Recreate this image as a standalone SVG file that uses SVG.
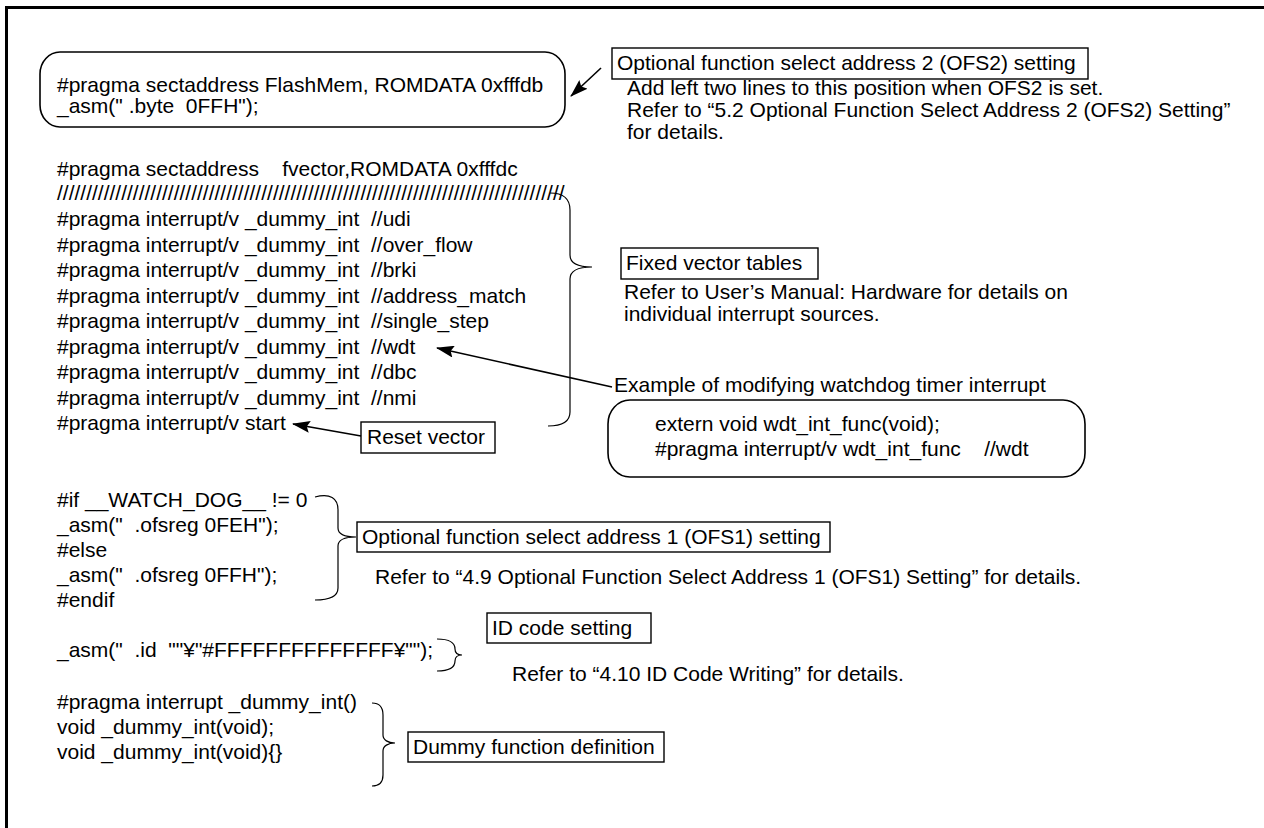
<svg xmlns="http://www.w3.org/2000/svg" width="1264" height="828" viewBox="0 0 1264 828" xml:space="preserve">
<style>
text { font-family: "Liberation Sans", Arial, sans-serif; font-size: 21px; fill: #000; white-space: pre; }
.rbox { fill: none; stroke: #000; stroke-width: 1.6; }
.lbox { fill: none; stroke: #000; stroke-width: 1.4; }
.brace { fill: none; stroke: #000; stroke-width: 1.2; }
.arrow { fill: none; stroke: #000; stroke-width: 1.6; marker-end: url(#ah); }
.frame { fill: none; stroke: #000; stroke-width: 3; }
</style>
<defs>
<marker id="ah" viewBox="0 0 18 12" refX="17" refY="6" markerWidth="18" markerHeight="12" markerUnits="userSpaceOnUse" orient="auto">
<path d="M0,0 L18,6 L0,12 L3,6 Z" fill="#000"/>
</marker>
</defs>
<rect width="1264" height="828" fill="#fff"/>
<path class="frame" d="M6.5,828 V7.5 H1264"/>

<g id="ofs2-code">
<rect class="rbox" x="40" y="52" width="525" height="75" rx="20" ry="22"/>
<text x="57" y="92">#pragma sectaddress FlashMem, ROMDATA 0xfffdb</text>
<text x="57" y="113">_asm(" .byte  0FFH");</text>
</g>

<g id="ofs2-note">
<rect class="lbox" x="612" y="48" width="476" height="31"/>
<text x="617" y="70">Optional function select address 2 (OFS2) setting</text>
<text x="627" y="95">Add left two lines to this position when OFS2 is set.</text>
<text x="627" y="117">Refer to “5.2 Optional Function Select Address 2 (OFS2) Setting”</text>
<text x="627" y="139">for details.</text>
</g>

<g id="vector-code">
<text x="57" y="176">#pragma sectaddress    fvector,ROMDATA 0xfffdc</text>
<text x="57" y="200">///////////////////////////////////////////////////////////////////////////////////////</text>
<text x="57" y="226">#pragma interrupt/v _dummy_int  //udi</text>
<text x="57" y="251.5">#pragma interrupt/v _dummy_int  //over_flow</text>
<text x="57" y="277">#pragma interrupt/v _dummy_int  //brki</text>
<text x="57" y="302.5">#pragma interrupt/v _dummy_int  //address_match</text>
<text x="57" y="328">#pragma interrupt/v _dummy_int  //single_step</text>
<text x="57" y="353.5">#pragma interrupt/v _dummy_int  //wdt</text>
<text x="57" y="379">#pragma interrupt/v _dummy_int  //dbc</text>
<text x="57" y="404.5">#pragma interrupt/v _dummy_int  //nmi</text>
<text x="57" y="430">#pragma interrupt/v start</text>
</g>

<g id="fixed-vector-note">
<rect class="lbox" x="621" y="248" width="197" height="31"/>
<text x="626" y="270">Fixed vector tables</text>
<text x="624" y="299">Refer to User’s Manual: Hardware for details on</text>
<text x="624" y="321">individual interrupt sources.</text>
</g>

<g id="reset-vector">
<rect class="lbox" x="361" y="422" width="134" height="31"/>
<text x="367" y="444">Reset vector</text>
</g>

<g id="wdt-example">
<text x="614" y="392">Example of modifying watchdog timer interrupt</text>
<rect class="rbox" x="608" y="400" width="477" height="77" rx="22" ry="24"/>
<text x="655" y="431">extern void wdt_int_func(void);</text>
<text x="655" y="456">#pragma interrupt/v wdt_int_func    //wdt</text>
</g>

<g id="ofs1-code">
<text x="57" y="507">#if __WATCH_DOG__ != 0</text>
<text x="57" y="532">_asm("  .ofsreg 0FEH");</text>
<text x="57" y="557">#else</text>
<text x="57" y="582">_asm("  .ofsreg 0FFH");</text>
<text x="57" y="607">#endif</text>
</g>

<g id="ofs1-note">
<rect class="lbox" x="357" y="522" width="473" height="30"/>
<text x="362" y="544">Optional function select address 1 (OFS1) setting</text>
<text x="375" y="584">Refer to “4.9 Optional Function Select Address 1 (OFS1) Setting” for details.</text>
</g>

<g id="id-code">
<text x="57" y="657">_asm("  .id  ""¥"#FFFFFFFFFFFFFF¥"");</text>
</g>

<g id="id-note">
<rect class="lbox" x="487" y="613" width="164" height="30"/>
<text x="492" y="635">ID code setting</text>
<text x="512" y="681">Refer to “4.10 ID Code Writing” for details.</text>
</g>

<g id="dummy-code">
<text x="57" y="709">#pragma interrupt _dummy_int()</text>
<text x="57" y="734">void _dummy_int(void);</text>
<text x="57" y="759">void _dummy_int(void){}</text>
</g>

<g id="dummy-note">
<rect class="lbox" x="408" y="732" width="256" height="30"/>
<text x="413" y="754">Dummy function definition</text>
</g>

<g id="braces">
<path class="brace" d="M550,193 C562,193 570,197 570,210 L570,255 C570,263 578,267 592,267 C578,267 570,271 570,279 L570,412 C570,422 562,426 548,426"/>
<path class="brace" d="M315,497 C330,493 338,498 338,510 L338,528 C338,534 345,537 356,537 C345,537 338,540 338,546 L338,588 C338,596 330,600 315,600"/>
<path class="brace" d="M437,639 C450,639 455,643 455,649 C455,653 458,655 462,655 C458,655 455,657 455,661 C455,667 450,671 437,671"/>
<path class="brace" d="M372,703 C380,703 383,707 383,715 L383,735 C383,740 388,743 395,743 C388,743 383,746 383,751 L383,775 C383,782 380,786 372,786"/>
</g>

<g id="connectors">
<line class="arrow" x1="601" y1="68" x2="571" y2="96"/>
<line class="arrow" x1="612" y1="387" x2="437" y2="348"/>
<line class="arrow" x1="361" y1="436" x2="293" y2="424"/>
</g>
</svg>
